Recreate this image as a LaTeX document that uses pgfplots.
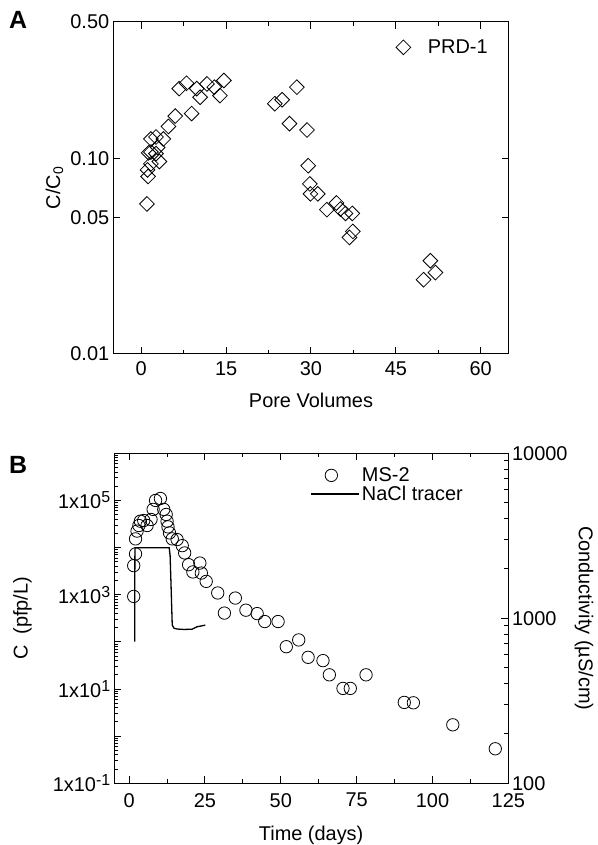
\documentclass[border=0pt]{standalone}
\usepackage{pgfplots}
\pgfplotsset{compat=1.18}
\usepackage{fontspec}
\setmainfont{Liberation Sans}
\pgfplotsset{
  lineleg/.style={legend image code/.code={\draw[##1] (0bp,0bp) -- (48bp,0bp);}},
  markleg/.style={legend image code/.code={\draw[##1] plot coordinates {(20bp,0bp)};\path (0bp,0bp) (48bp,0bp);}},
  markA/.style={legend image code/.code={\draw[##1] plot coordinates {(8bp,0bp)};\path (0bp,0bp) (30bp,0bp);}},
}
\newcommand{\sx}[1]{\raisebox{0.6ex}{\fontsize{16}{16}\selectfont #1}}
\begin{document}
\begin{tikzpicture}
\useasboundingbox (0,0) rectangle (598bp,845bp);
\pgfplotsset{
  every axis/.append style={font=\fontsize{20}{24}\selectfont, line width=1bp,
    tick style={line width=1bp, black}},
  major tick length=7bp, minor tick length=4bp,
}
% ---------------- Panel A ----------------
\begin{axis}[
  at={(113bp,491bp)}, anchor=south west, scale only axis,
  width=396bp, height=332bp,
  ymode=log, xmin=-5, xmax=65, ymin=0.01, ymax=0.5,
  xtick={0,15,30,45,60}, xticklabels={0,15,30,45,60},
  minor xtick={7.5,22.5,37.5,52.5},
  ytick={0.01,0.05,0.1,0.5}, yticklabels={0.01,0.05,0.10,0.50},
  minor ytick={}, 
  xtick pos=both, ytick pos=both,
  xticklabel style={yshift=-4bp},
  xlabel={Pore Volumes}, ylabel={C/C\textsubscript{0}},
  xlabel style={yshift=-10bp},
  legend style={draw=none, fill=none, at={(0.96,0.96)}, anchor=north east,
    legend cell align=left},
]
\addplot[only marks, mark=square, mark size=5.2bp, mark options={rotate=45, line width=0.8bp, fill=white}, markA] coordinates {
(1.0,0.0586) (1.2,0.081) (1.1,0.0875) (1.7,0.094) (3.2,0.0966) (1.3,0.107)
(2.6,0.106) (1.7,0.108) (2.9,0.114) (1.7,0.126) (2.6,0.129) (3.9,0.126)
(4.8,0.146) (6.0,0.165) (8.9,0.170) (6.7,0.228) (8.0,0.243) (9.8,0.228)
(10.4,0.206) (11.6,0.241) (12.9,0.232) (13.9,0.210) (14.6,0.251)
(23.6,0.191) (24.9,0.200) (27.5,0.232) (26.2,0.151) (29.3,0.140)
(29.5,0.092) (29.8,0.0742) (29.9,0.066) (31.2,0.066) (32.8,0.0548)
(34.5,0.0593) (35.2,0.0552) (36.1,0.0524) (37.3,0.0524) (37.4,0.0424)
(36.8,0.0395) (51.1,0.030) (52.0,0.0261) (49.9,0.024)
};
\addlegendentry{PRD-1}
\end{axis}
\node[font=\fontsize{25}{28}\selectfont\bfseries, anchor=center] at (18bp,825bp) {A};
% ---------------- Panel B (left) ----------------
\begin{axis}[
  at={(114bp,61.7bp)}, anchor=south west, scale only axis,
  width=394.3bp, height=330bp,
  ymode=log, xmin=-5, xmax=125, ymin=0.1, ymax=1e6,
  xtick={0,25,50,75,100,125}, xticklabels={0,25,50,75,100,125},
  minor xtick={12.5,37.5,62.5,87.5,112.5},
  ytick={0.1,10,1000,100000},
  yticklabels={1x10\sx{-1},1x10\sx{1},1x10\sx{3},1x10\sx{5}},
  extra y ticks={1,100,10000,1000000}, extra y tick labels={},
  extra y tick style={major tick length=7bp},
  minor ytick={0.2,0.3,0.4,0.5,0.6,0.7,0.8,0.9,2,3,4,5,6,7,8,9,20,30,40,50,60,70,80,90,200,300,400,500,600,700,800,900,2000,3000,4000,5000,6000,7000,8000,9000,20000,30000,40000,50000,60000,70000,80000,90000,200000,300000,400000,500000,600000,700000,800000,900000},
  xtick pos=both, ytick pos=left,
  xticklabel style={yshift=-6bp},
  xlabel={Time (days)}, ylabel={C\ \ (pfp/L)},
  xlabel style={yshift=-12bp}, ylabel style={yshift=14bp},
]
\addplot[only marks, mark=o, mark size=6.2bp, mark options={line width=0.8bp, fill=white}] coordinates {
(1.5,920) (1.5,4140) (2.1,7340) (2.1,15300) (2.6,22400) (3.2,29400)
(3.7,36300) (4.8,37500) (5.9,29400) (7.2,39500) (7.9,64600) (8.7,100000)
(10.3,110000) (11.4,64600) (12.2,50400) (12.5,36300) (12.8,27500)
(13.3,20500) (14.2,15300) (15.8,14800) (17.5,11000) (18.3,7700)
(19.6,4340) (21.0,3040) (23.3,4700) (23.8,2880) (25.4,1920) (29.2,1090)
(31.4,408) (35.0,850) (38.5,470) (42.2,398) (44.7,270) (49.1,270)
(51.8,79) (55.9,110) (59.0,47) (63.9,40) (66.0,20) (70.5,10.3) (72.9,10.3)
(78.1,20) (90.7,5.2) (93.7,5.1) (106.7,1.74) (120.7,0.54)
};
\end{axis}
% ---------------- Panel B (right) ----------------
\begin{axis}[
  at={(114bp,61.7bp)}, anchor=south west, scale only axis,
  width=394.3bp, height=330bp,
  ymode=log, xmin=-5, xmax=125, ymin=100, ymax=10000,
  axis x line=none, axis y line*=right,
  ytick={100,1000,10000}, yticklabels={100,1000,10000},
  ylabel={Conductivity (µS/cm)}, ylabel style={rotate=180},
  legend style={draw=none, fill=none, at={(0.49,0.97)}, anchor=north west,
    legend cell align=left, row sep=-1bp},
]
\addlegendimage{only marks, mark=o, mark size=6.2bp, mark options={line width=0.8bp}, markleg}
\addlegendentry{MS-2}
\addplot[black, line width=1.3bp, lineleg] coordinates {
(1.85,721) (1.85,1500) (1.9,2679) (13.2,2679) (13.5,2400) (13.8,1600) (14.2,910)
(14.8,870) (15.8,861) (18,856) (20.7,858) (22.4,889) (24,900) (25.1,910)
};
\addlegendentry{NaCl tracer}
\end{axis}
\node[font=\fontsize{25}{28}\selectfont\bfseries, anchor=center] at (18bp,380bp) {B};
\end{tikzpicture}
\end{document}
